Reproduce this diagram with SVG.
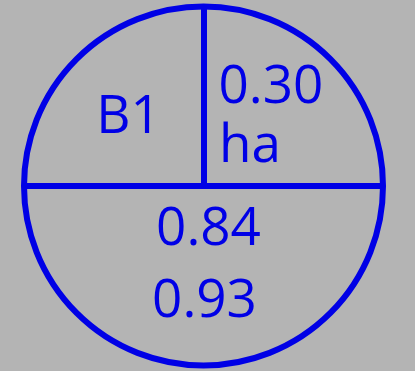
<svg xmlns="http://www.w3.org/2000/svg" width="415" height="371" viewBox="0 0 415 371">
<style>
.ln{stroke:#0000e6;stroke-width:6;fill:none}
.t{font-family:"Open Sans","Liberation Sans",sans-serif;font-size:53px;fill:#0000e6}
</style>
<rect x="0" y="0" width="415" height="371" fill="#b4b4b4"/>
<g id="connectors">
<line class="ln" x1="24" y1="186" x2="383" y2="186"/>
<line class="ln" x1="204" y1="6" x2="204" y2="186"/>
</g>
<g id="circle">
<circle class="ln" cx="203.5" cy="186" r="179.5"/>
</g>
<g id="labels">
<text class="t" x="128.5" y="133" text-anchor="middle">B1</text>
<text class="t"><tspan x="218.5" y="103">0.30</tspan><tspan x="219" y="162">ha</tspan></text>
<text class="t" x="208.5" y="245" text-anchor="middle">0.84</text>
<text class="t" x="204.5" y="317" text-anchor="middle">0.93</text>
</g>
</svg>
